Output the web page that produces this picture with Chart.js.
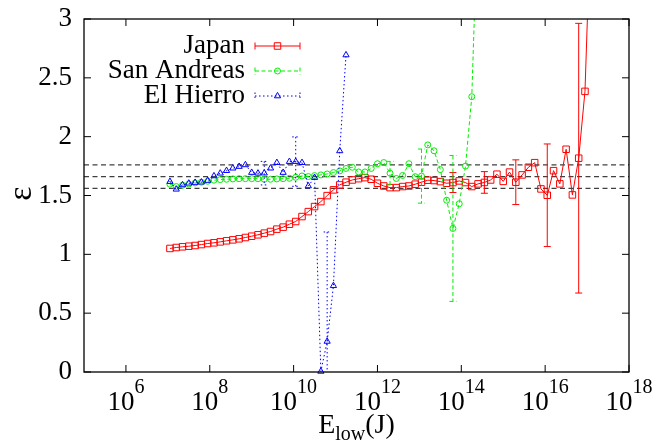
<!DOCTYPE html>
<html>
<head>
<meta charset="utf-8">
<script src="https://cdn.jsdelivr.net/npm/chart.js@4.4.1/dist/chart.umd.min.js"></script>
<style>
html,body{margin:0;padding:0;background:#fff;}
canvas{display:block;}
</style>
</head>
<body>
<canvas id="c" width="670" height="443"></canvas>
<script>
// log10 of E_low (J) for each magnitude bin
const logE = [7.05,7.2,7.35,7.5,7.65,7.8,7.95,8.1,8.25,8.4,8.55,8.7,8.85,9.0,9.15,9.3,9.45,9.6,9.75,9.9,
  10.05,10.2,10.35,10.5,10.65,10.8,10.95,11.1,11.25,11.4,11.55,11.7,11.85,12.0,12.15,12.3,12.45,12.6,12.75,12.9,
  13.05,13.2,13.35,13.5,13.65,13.8,13.95,14.1,14.25,14.4,14.55,14.7,14.85,15.0,15.15,15.3,15.45,15.6,15.75,15.9,
  16.05,16.2,16.35,16.5,16.65,16.8,16.95,17.1];

const japan = [1.050,1.058,1.064,1.069,1.075,1.083,1.092,1.098,1.106,1.115,
  1.123,1.132,1.143,1.154,1.166,1.180,1.194,1.214,1.231,1.256,
  1.279,1.321,1.363,1.406,1.448,1.499,1.548,1.590,1.613,1.632,
  1.643,1.652,1.638,1.604,1.581,1.567,1.567,1.576,1.581,1.596,
  1.613,1.630,1.627,1.618,1.604,1.610,1.624,1.610,1.576,1.599,
  1.611,1.632,1.681,1.620,1.699,1.613,1.675,1.740,1.779,1.556,
  1.502,1.711,1.599,1.893,1.505,1.817,2.385,4.0];
const japanErrIdx = [45,50,55,60,65];
const japanErr = [0.085,0.092,0.19,0.436,1.146];

const sanAndreas = [1.596,1.576,1.587,1.598,1.607,1.613,1.621,1.630,1.635,1.638,
  1.641,1.643,1.643,1.643,1.643,1.638,1.638,1.641,1.643,1.646,
  1.655,1.666,1.661,1.669,1.675,1.683,1.695,1.709,1.73,1.74,
  1.70,1.70,1.73,1.77,1.78,1.69,1.645,1.67,1.77,1.66,
  1.665,1.93,1.88,1.72,1.46,1.22,1.43,1.75,2.34,4.0];
const sanAndreasErrIdx = [35,40,45];
const sanAndreasErr = [0.1,0.23,0.62];

const elHierro = [1.618,1.553,1.590,1.604,1.610,1.613,1.627,1.666,1.689,1.711,
  1.732,1.746,1.760,1.695,1.689,1.69,1.732,1.779,1.695,1.788,
  1.788,1.779,1.581,1.652,0.005,0.26,0.733,1.879,2.694];
const elHierroErrIdx = [15,20,25];
const elHierroErr = [0.1,0.21,0.93];

const refLines = [1.56,1.66,1.76];
const xTickExps = [6,8,10,12,14,16,18];
const yTicks = [0,0.5,1,1.5,2,2.5,3];
const xRange = [1e5,1e18];

const names = ['Japan','San Andreas','El Hierro'];
const colors = ['#ff0000','#00ee00','#0000ff'];
const dashes = [[],[4,2.5],[1.5,2.5]];
const styles = ['rect','circle','triangle'];
const radii = [4.6,3.0,3.6];

function pts(vals){ return vals.map((v,i)=>({x:Math.pow(10,logE[i]),y:v})); }

const series = [japan, sanAndreas, elHierro];
const errIdx = [japanErrIdx, sanAndreasErrIdx, elHierroErrIdx];
const errVal = [japanErr, sanAndreasErr, elHierroErr];

const datasets = [];
series.forEach((s,k)=>{
  datasets.push({
    label:names[k], data:pts(s), showLine:true,
    borderColor:colors[k], borderWidth:1, borderDash:dashes[k],
    pointStyle:styles[k], pointRadius:radii[k], pointBorderWidth:1,
    pointBorderColor:colors[k], pointBackgroundColor:'rgba(0,0,0,0)',
    order:2-k, clip:{left:6,right:6,top:0,bottom:6}
  });
});
refLines.forEach(v=>{
  datasets.push({
    label:'ref', data:[{x:xRange[0],y:v},{x:xRange[1],y:v}], showLine:true,
    borderColor:'#404040', borderWidth:1.2, borderDash:[5,3.5], pointRadius:0, order:5
  });
});

const FONT = '"Liberation Serif","Times New Roman",serif';

function drawMarker(ctx,style,x,y,r,color){
  ctx.save(); ctx.strokeStyle=color; ctx.lineWidth=1; ctx.setLineDash([]);
  ctx.beginPath();
  if(style==='rect'){ const s=r*Math.SQRT1_2; ctx.rect(x-s,y-s,2*s,2*s); }
  else if(style==='circle'){ ctx.arc(x,y,r,0,Math.PI*2); }
  else { const a=r; ctx.moveTo(x,y-a); ctx.lineTo(x+a*0.866,y+a*0.5); ctx.lineTo(x-a*0.866,y+a*0.5); ctx.closePath(); }
  ctx.stroke(); ctx.restore();
}

const errPlugin = {
  id:'err',
  afterDatasetsDraw(chart){
    const ctx=chart.ctx, xs=chart.scales.x, ys=chart.scales.y, a=chart.chartArea;
    ctx.save();
    ctx.beginPath(); ctx.rect(a.left,a.top,a.right-a.left,a.bottom-a.top); ctx.clip();
    series.forEach((s,k)=>{
      ctx.strokeStyle=colors[k]; ctx.lineWidth=1; ctx.setLineDash(dashes[k]);
      errIdx[k].forEach((idx,j)=>{
        const e=errVal[k][j], v=s[idx];
        const px=xs.getPixelForValue(Math.pow(10,logE[idx]));
        const p1=ys.getPixelForValue(v+e), p2=ys.getPixelForValue(v-e);
        ctx.beginPath();
        ctx.moveTo(px,p1); ctx.lineTo(px,p2);
        ctx.moveTo(px-3.5,p1); ctx.lineTo(px+3.5,p1);
        ctx.moveTo(px-3.5,p2); ctx.lineTo(px+3.5,p2);
        ctx.stroke();
      });
    });
    ctx.restore();
  }
};

const framePlugin = {
  id:'frame',
  afterDraw(chart){
    const ctx=chart.ctx, xs=chart.scales.x, ys=chart.scales.y, a=chart.chartArea;
    ctx.save();
    ctx.setLineDash([]);
    ctx.strokeStyle='#000'; ctx.lineWidth=1.3;
    ctx.strokeRect(a.left,a.top,a.right-a.left,a.bottom-a.top);
    ctx.lineWidth=1;
    ctx.beginPath();
    const TL=7;
    yTicks.forEach(v=>{
      const py=ys.getPixelForValue(v);
      ctx.moveTo(a.left,py); ctx.lineTo(a.left+TL,py);
      ctx.moveTo(a.right,py); ctx.lineTo(a.right-TL,py);
    });
    xTickExps.forEach(e=>{
      const px=xs.getPixelForValue(Math.pow(10,e));
      ctx.moveTo(px,a.bottom); ctx.lineTo(px,a.bottom-TL);
      ctx.moveTo(px,a.top); ctx.lineTo(px,a.top+TL);
    });
    ctx.stroke();

    ctx.fillStyle='#000';
    ctx.font='27px '+FONT; ctx.textAlign='right'; ctx.textBaseline='middle';
    yTicks.forEach(v=>{
      const py=ys.getPixelForValue(v);
      ctx.fillText(String(v), a.left-12, py);
    });
    ctx.textAlign='left'; ctx.textBaseline='alphabetic';
    xTickExps.forEach(e=>{
      const px=xs.getPixelForValue(Math.pow(10,e));
      ctx.font='27px '+FONT; const w1=ctx.measureText('10').width;
      ctx.font='20px '+FONT; const w2=ctx.measureText(String(e)).width;
      const x0=px-(w1+w2)/2;
      ctx.font='27px '+FONT; ctx.fillText('10',x0,410);
      ctx.font='20px '+FONT; ctx.fillText(String(e),x0+w1,393);
    });
    ctx.font='28px '+FONT; const wE=ctx.measureText('E').width, wJ=ctx.measureText('(J)').width;
    ctx.font='20px '+FONT; const wl=ctx.measureText('low').width;
    const cx=(a.left+a.right)/2, tx=cx-(wE+wl+wJ)/2;
    ctx.font='28px '+FONT; ctx.fillText('E',tx,433);
    ctx.font='20px '+FONT; ctx.fillText('low',tx+wE,440);
    ctx.font='28px '+FONT; ctx.fillText('(J)',tx+wE+wl,433);
    ctx.save(); ctx.translate(22,(a.top+a.bottom)/2-2); ctx.rotate(-Math.PI/2);
    ctx.font='34px '+FONT; ctx.textAlign='center'; ctx.textBaseline='middle';
    ctx.fillText('ε',0,0); ctx.restore();

    const rows=[46,71,96];
    names.forEach((n,k)=>{
      const y=rows[k];
      ctx.font='27px '+FONT; ctx.textAlign='right'; ctx.textBaseline='middle'; ctx.fillStyle='#000';
      ctx.fillText(n,245,y);
      ctx.save(); ctx.strokeStyle=colors[k]; ctx.lineWidth=1; ctx.setLineDash(dashes[k]);
      ctx.beginPath(); ctx.moveTo(255,y); ctx.lineTo(300,y);
      ctx.moveTo(255,y-3.5); ctx.lineTo(255,y+3.5);
      ctx.moveTo(300,y-3.5); ctx.lineTo(300,y+3.5);
      ctx.stroke(); ctx.restore();
      drawMarker(ctx,styles[k],277.5,y,radii[k],colors[k]);
    });
    ctx.restore();
  }
};

new Chart(document.getElementById('c').getContext('2d'),{
  type:'scatter',
  data:{datasets:datasets},
  options:{
    responsive:false, animation:false, devicePixelRatio:1,
    layout:{padding:{left:84,right:41,top:19,bottom:71}},
    scales:{
      x:{type:'logarithmic',min:xRange[0],max:xRange[1],display:false},
      y:{type:'linear',min:0,max:3,display:false}
    },
    plugins:{legend:{display:false},tooltip:{enabled:false}}
  },
  plugins:[errPlugin,framePlugin]
});
</script>
</body>
</html>
